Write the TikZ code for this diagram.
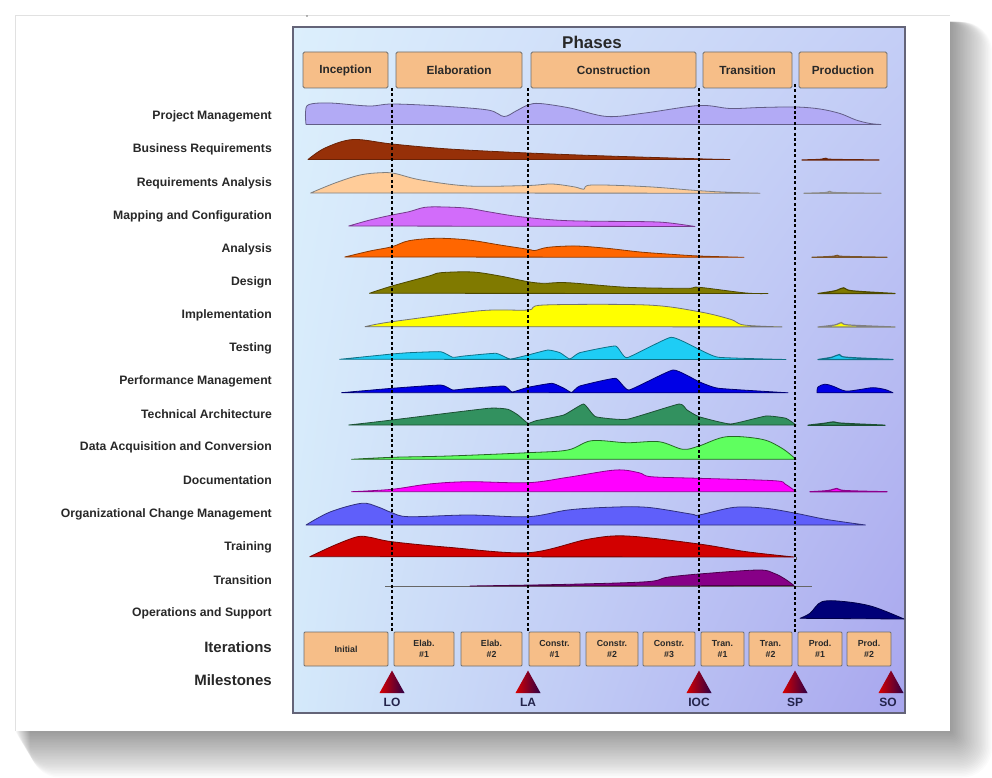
\documentclass[tikz,border=0pt]{standalone}
\usepackage{fontspec}
\setmainfont{Liberation Sans}
\usetikzlibrary{calc,shadings}

\definecolor{labelgrey}{RGB}{40,40,40}
\definecolor{mslabel}{RGB}{35,35,75}
\definecolor{boxfill}{RGB}{246,190,136}
\definecolor{boxedge}{RGB}{110,110,110}
\definecolor{panedge}{RGB}{100,100,120}
\definecolor{cardedge}{RGB}{225,225,225}
\definecolor{cPM}{RGB}{178,170,245}
\definecolor{cBR}{RGB}{150,48,8}
\definecolor{cRA}{RGB}{255,204,153}
\definecolor{cMC}{RGB}{210,108,250}
\definecolor{cAN}{RGB}{255,102,0}
\definecolor{cANp}{RGB}{200,140,70}
\definecolor{cDE}{RGB}{128,122,0}
\definecolor{cIM}{RGB}{255,255,0}
\definecolor{cTE}{RGB}{30,205,245}
\definecolor{cPE}{RGB}{0,0,230}
\definecolor{cTA}{RGB}{50,145,95}
\definecolor{cDA}{RGB}{95,255,95}
\definecolor{cDO}{RGB}{255,0,255}
\definecolor{cOC}{RGB}{95,95,250}
\definecolor{cTR}{RGB}{210,0,0}
\definecolor{cTN}{RGB}{135,0,135}
\definecolor{cOP}{RGB}{0,0,120}
\definecolor{bgTL}{RGB}{220,239,252}
\definecolor{bgBL}{RGB}{212,233,250}
\definecolor{bgTR}{RGB}{196,206,246}
\definecolor{bgBR}{RGB}{168,166,238}
\definecolor{msRed}{RGB}{215,0,0}
\definecolor{msMid}{RGB}{185,0,10}
\definecolor{msDark}{RGB}{45,0,70}

\begin{document}
\begin{tikzpicture}[x=1pt,y=-1pt,
  rowlabel/.style={anchor=east, inner sep=0pt, text=labelgrey,
    font=\bfseries\fontsize{12.2}{14}\selectfont},
  biglabel/.style={anchor=east, inner sep=0pt, text=labelgrey,
    font=\bfseries\fontsize{15}{17}\selectfont},
  phasebox/.style={draw=boxedge, fill=boxfill, line width=0.9pt,
    rounded corners=1.5pt, minimum height=36pt, inner sep=0pt, text=labelgrey,
    font=\bfseries\fontsize{11.8}{14}\selectfont},
  iterbox/.style={draw=boxedge, fill=boxfill, line width=0.9pt,
    rounded corners=1pt, minimum height=34pt, inner sep=0pt, align=center,
    text=labelgrey, font=\bfseries\fontsize{8.8}{10.5}\selectfont},
  mslab/.style={inner sep=0pt, text=mslabel,
    font=\bfseries\fontsize{12}{14}\selectfont},
  phaseline/.style={black, line width=1.8pt, dash pattern=on 3pt off 2.4pt},
  band/.style={line width=0.8pt, line join=round},
  smoothband/.style={band, smooth, tension=0.55},
  sharpband/.style={band, smooth, tension=0.25},
  milestone/.style={left color=msRed, middle color=msMid, right color=msDark}
]
\useasboundingbox (0,0) rectangle (992,778);

% page shadow, built from soft layers
\foreach \k in {1,...,30}{
  \fill[black, opacity=0.016, rounded corners=\k pt]
    (15+0.5*\k, 22) rectangle (950+1.4*\k, 731+1.55*\k);
}
% white page
\fill[white] (15,15) rectangle (950,731);
\draw[cardedge, line width=0.8pt] (15,731) -- (15,15) -- (950,15);
\fill[black!55] (307,16) circle (0.9);

% chart panel
\shade[upper left=bgTL, lower left=bgBL, upper right=bgTR, lower right=bgBR]
  (293,27) rectangle (905,713);
\draw[panedge, line width=1.2pt] (293,27) rectangle (905,713);

\node[inner sep=0pt, text=labelgrey, font=\bfseries\fontsize{17}{19}\selectfont]
  (phases) at (592,42) {Phases};

% phases
\node[phasebox, minimum width=85pt]  (inc)  at (345.5,70) {Inception};
\node[phasebox, minimum width=126pt] (ela)  at (459,70)   {Elaboration};
\node[phasebox, minimum width=165pt] (con)  at (613.5,70) {Construction};
\node[phasebox, minimum width=89pt]  (tra)  at (747.5,70) {Transition};
\node[phasebox, minimum width=88pt]  (pro)  at (843,70)   {Production};

% disciplines
\node[rowlabel] (l1)  at (272,116) {Project Management};
\node[rowlabel] (l2)  at (272,149) {Business Requirements};
\node[rowlabel] (l3)  at (272,183) {Requirements Analysis};
\node[rowlabel] (l4)  at (272,216) {Mapping and Configuration};
\node[rowlabel] (l5)  at (272,249) {Analysis};
\node[rowlabel] (l6)  at (272,282) {Design};
\node[rowlabel] (l7)  at (272,315) {Implementation};
\node[rowlabel] (l8)  at (272,348) {Testing};
\node[rowlabel] (l9)  at (272,381) {Performance Management};
\node[rowlabel] (l10) at (272,414) {Technical Architecture};
\node[rowlabel] (l11) at (272,447) {Data Acquisition and Conversion};
\node[rowlabel] (l12) at (272,480) {Documentation};
\node[rowlabel] (l13) at (272,514) {Organizational Change Management};
\node[rowlabel] (l14) at (272,547) {Training};
\node[rowlabel] (l15) at (272,580) {Transition};
\node[rowlabel] (l16) at (272,613) {Operations and Support};
\node[biglabel] (lit) at (272,647) {Iterations};
\node[biglabel] (lms) at (272,680) {Milestones};

% effort curves
\draw[smoothband, fill=cPM, draw=cPM!55!black] plot coordinates {
  (306,124.5) (305.5,112) (309,104.5) (330,103) (369,106) (392,104) (440,106)
  (488,110) (504,116.5) (516,111) (528,105) (540,103.5) (570,108) (607,116.5)
  (645,113) (699,105.5) (730,108.5) (760,107.5) (796,107) (820,109) (840,113.5)
  (856,120) (870,123.5) (881,124.5)} -- cycle;

\draw[smoothband, fill=cBR, draw=cBR!70!black] plot coordinates {
  (308,159.5) (325,148) (353,139.5) (392,144) (449,149) (528,153) (607,156)
  (699,158.8) (730,159.5)} -- cycle;
\draw[smoothband, fill=cBR, draw=cBR!70!black, line width=1.2pt] plot coordinates {
  (802,160) (820,159.4) (826,158.3) (832,159.4) (879,160)} -- cycle;

\draw[smoothband, fill=cRA, draw=black!50] plot coordinates {
  (310.6,193) (335,183) (360,175) (381,172.7) (395,173.5) (421,180) (468.6,186)
  (528,185.5) (552,184) (575,187) (583.6,189.3) (591.6,185) (647,186.7)
  (699,190.7) (730,192.3) (760,193.2)} -- cycle;
\draw[smoothband, fill=cRA, draw=black!45, line width=1.2pt] plot coordinates {
  (804,193.3) (825,192.6) (830,191.3) (836,192.6) (881,193.3)} -- cycle;

\draw[smoothband, fill=cMC, draw=cMC!55!black] plot coordinates {
  (348.7,226) (370,220) (392,215) (409,211.7) (425,207.3) (445,207) (468.6,208.3)
  (488,211.7) (520,216.7) (568,220.7) (647,221.7) (670,223) (695,226.5)} -- cycle;

\draw[smoothband, fill=cAN, draw=cAN!55!black] plot coordinates {
  (344.8,257) (370,251) (392,246.7) (409,240.7) (436.8,238.3) (468.6,240)
  (500,245) (528,249.3) (535,250.5) (548,247.3) (575.7,246) (607,248.3)
  (640,252) (667,254) (699,256) (744,257.3)} -- cycle;
\draw[smoothband, fill=cANp, draw=cANp!60!black, line width=1.2pt] plot coordinates {
  (812,257.3) (832,256.4) (837.6,255.3) (843,256.4) (887,257.3)} -- cycle;

\draw[smoothband, fill=cDE, draw=cDE!60!black] plot coordinates {
  (369.4,293.3) (392,286) (429,276) (440.8,272.7) (472.5,272) (500,276)
  (528,281.7) (544,283.3) (567.8,282.7) (627,287.3) (687,288.3) (699,287.3)
  (746,293) (768,293.5)} -- cycle;
\draw[smoothband, fill=cDE, draw=cDE!60!black, line width=1.2pt] plot coordinates {
  (818,293.5) (835,290.8) (843.6,287.8) (852,290.8) (895,293.5)} -- cycle;

\draw[smoothband, fill=cIM, draw=black!55] plot coordinates {
  (365,326.7) (392,321.7) (480.5,310.7) (528,310) (544,305) (647,305)
  (699,311.7) (730.5,319.3) (744,325) (782,326.9)} -- cycle;
\draw[smoothband, fill=cIM, draw=black!50, line width=1.2pt] plot coordinates {
  (818,327) (835,324.9) (841.6,322.5) (848,324.9) (895,327)} -- cycle;

\draw[sharpband, fill=cTE, draw=cTE!55!black] plot coordinates {
  (339.6,359.3) (392,354) (409,352.7) (440.8,351.7) (452.7,357.3) (464,356)
  (496,353.3) (510,359) (528,355) (548,350) (560,352.7) (569.8,359)
  (579.7,352.7) (615.4,346) (627,357.7) (671,337.3) (699,349.3) (718.6,357.3)
  (786,359.5)} -- cycle;
\draw[smoothband, fill=cTE, draw=cTE!55!black, line width=1.2pt] plot coordinates {
  (818,359.5) (832,357.2) (839.6,354.5) (846,357.2) (893,359.5)} -- cycle;

\draw[sharpband, fill=cPE, draw=cPE!50!black] plot coordinates {
  (341.6,392.7) (392,388.3) (440.8,385) (452.7,390) (466,388.7) (504,386)
  (512,392) (528,387.3) (552,383.3) (564,388.3) (571.7,392.5) (579.7,386)
  (615.4,378.3) (629,390) (673,370) (699,381.7) (718.6,388.3) (788,392.8)} -- cycle;
\draw[smoothband, fill=cPE, draw=cPE!50!black] plot coordinates {
  (817,392.8) (818,387) (825,384.2) (833,386.2) (845.6,391) (860,389.5)
  (873,387.7) (885,389.5) (893,392.8)} -- cycle;

\draw[sharpband, fill=cTA, draw=cTA!55!black] plot coordinates {
  (348.7,425) (369.4,422.7) (392,420) (488.4,408.3) (508,409.3) (518,415)
  (528,423.3) (536,420.7) (563.8,415) (583.6,404) (595.6,416.7) (627,419.3)
  (679,404) (687,410) (699,416.7) (730.5,424) (766,416) (786,418.3)
  (796,425)} -- cycle;
\draw[smoothband, fill=cTA, draw=cTA!55!black, line width=1.2pt] plot coordinates {
  (808,425.2) (825,423.2) (833.6,421.9) (842,423.2) (885,425.2)} -- cycle;

\draw[smoothband, fill=cDA, draw=cDA!40!black] plot coordinates {
  (351.5,459.3) (392,457.3) (448.7,456) (528,452.7) (567.8,450) (591.6,440.7)
  (627,442.7) (659,441.7) (682.9,449.3) (699,446) (726.5,436.7) (762,439.3)
  (782,448.3) (796,459.3)} -- cycle;

\draw[smoothband, fill=cDO, draw=cDO!55!black] plot coordinates {
  (351.5,491.7) (392,489.3) (429,484) (468.6,481.7) (528,482.7) (567.8,477.3)
  (615.4,470) (639,472.7) (651,476.7) (699,478.3) (774,480.7) (785,484)
  (796,491.7)} -- cycle;
\draw[smoothband, fill=cDO, draw=cDO!55!black, line width=1.2pt] plot coordinates {
  (810,491.8) (828,490.6) (836.8,488.5) (845,490.6) (887,491.8)} -- cycle;

\draw[smoothband, fill=cOC, draw=cOC!50!black] plot coordinates {
  (306,525) (330,512) (361.4,503.3) (377.3,506.7) (392,512.7) (409,516.7)
  (468.6,515) (528,516.7) (567.8,510) (607.5,507.3) (647,507.3) (690.8,514)
  (699,515) (734.4,507.3) (766,508.3) (796,513.3) (825.7,519.3) (865.4,525)} -- cycle;

\draw[smoothband, fill=cTR, draw=cTR!55!black] plot coordinates {
  (309.8,556.7) (335,545) (357.5,536.7) (370,537.3) (392,541.7) (448.7,547.3)
  (528,552.7) (587.6,539.3) (627.3,536) (699,544) (746.3,551.7) (794,557)} -- cycle;
\draw[black!60, line width=0.8pt] (796,556.5) -- (796,559.5);

\draw[black!60, line width=0.9pt] (385,586) -- (812,586);
\draw[smoothband, fill=cTN, draw=cTN!55!black] plot coordinates {
  (470,586) (567.8,584.3) (647,581.7) (667,577.3) (699,574) (758,570)
  (774,573.3) (785,579) (794,585.5)} -- cycle;

\draw[smoothband, fill=cOP, draw=cOP!60!black] plot coordinates {
  (800,618.3) (810,613.3) (822,601.7) (845.6,601.7) (873,606.7) (904,619)} -- cycle;

% iterations
\node[iterbox, minimum width=84pt] (it1)  at (346,649)   {Initial};
\node[iterbox, minimum width=60pt] (it2)  at (424,649)   {Elab.\\\#1};
\node[iterbox, minimum width=61pt] (it3)  at (491.5,649) {Elab.\\\#2};
\node[iterbox, minimum width=51pt] (it4)  at (554.5,649) {Constr.\\\#1};
\node[iterbox, minimum width=52pt] (it5)  at (612,649)   {Constr.\\\#2};
\node[iterbox, minimum width=52pt] (it6)  at (669,649)   {Constr.\\\#3};
\node[iterbox, minimum width=43pt] (it7)  at (722.5,649) {Tran.\\\#1};
\node[iterbox, minimum width=43pt] (it8)  at (770.5,649) {Tran.\\\#2};
\node[iterbox, minimum width=44pt] (it9)  at (820,649)   {Prod.\\\#1};
\node[iterbox, minimum width=44pt] (it10) at (869,649)   {Prod.\\\#2};

% phase boundaries
\coordinate (b1t) at (392,88);  \coordinate (b1b) at (392,632);
\coordinate (b2t) at (528,88);  \coordinate (b2b) at (528,632);
\coordinate (b3t) at (699,88);  \coordinate (b3b) at (699,632);
\coordinate (b4t) at (795,84);  \coordinate (b4b) at (795,632);
\draw[phaseline] (b1t) -- (b1b);
\draw[phaseline] (b2t) -- (b2b);
\draw[phaseline] (b3t) -- (b3b);
\draw[phaseline] (b4t) -- (b4b);

% milestones
\foreach \mx in {392, 528, 699, 795, 891}{
  \shade[milestone] (\mx-12.5,693) -- (\mx,670.5) -- (\mx+12.5,693) -- cycle;
}
\node[mslab] (mLO)  at (392,702) {LO};
\node[mslab] (mLA)  at (528,702) {LA};
\node[mslab] (mIOC) at (699,702) {IOC};
\node[mslab] (mSP)  at (795,702) {SP};
\node[mslab] (mSO)  at (888,702) {SO};
\end{tikzpicture}
\end{document}
